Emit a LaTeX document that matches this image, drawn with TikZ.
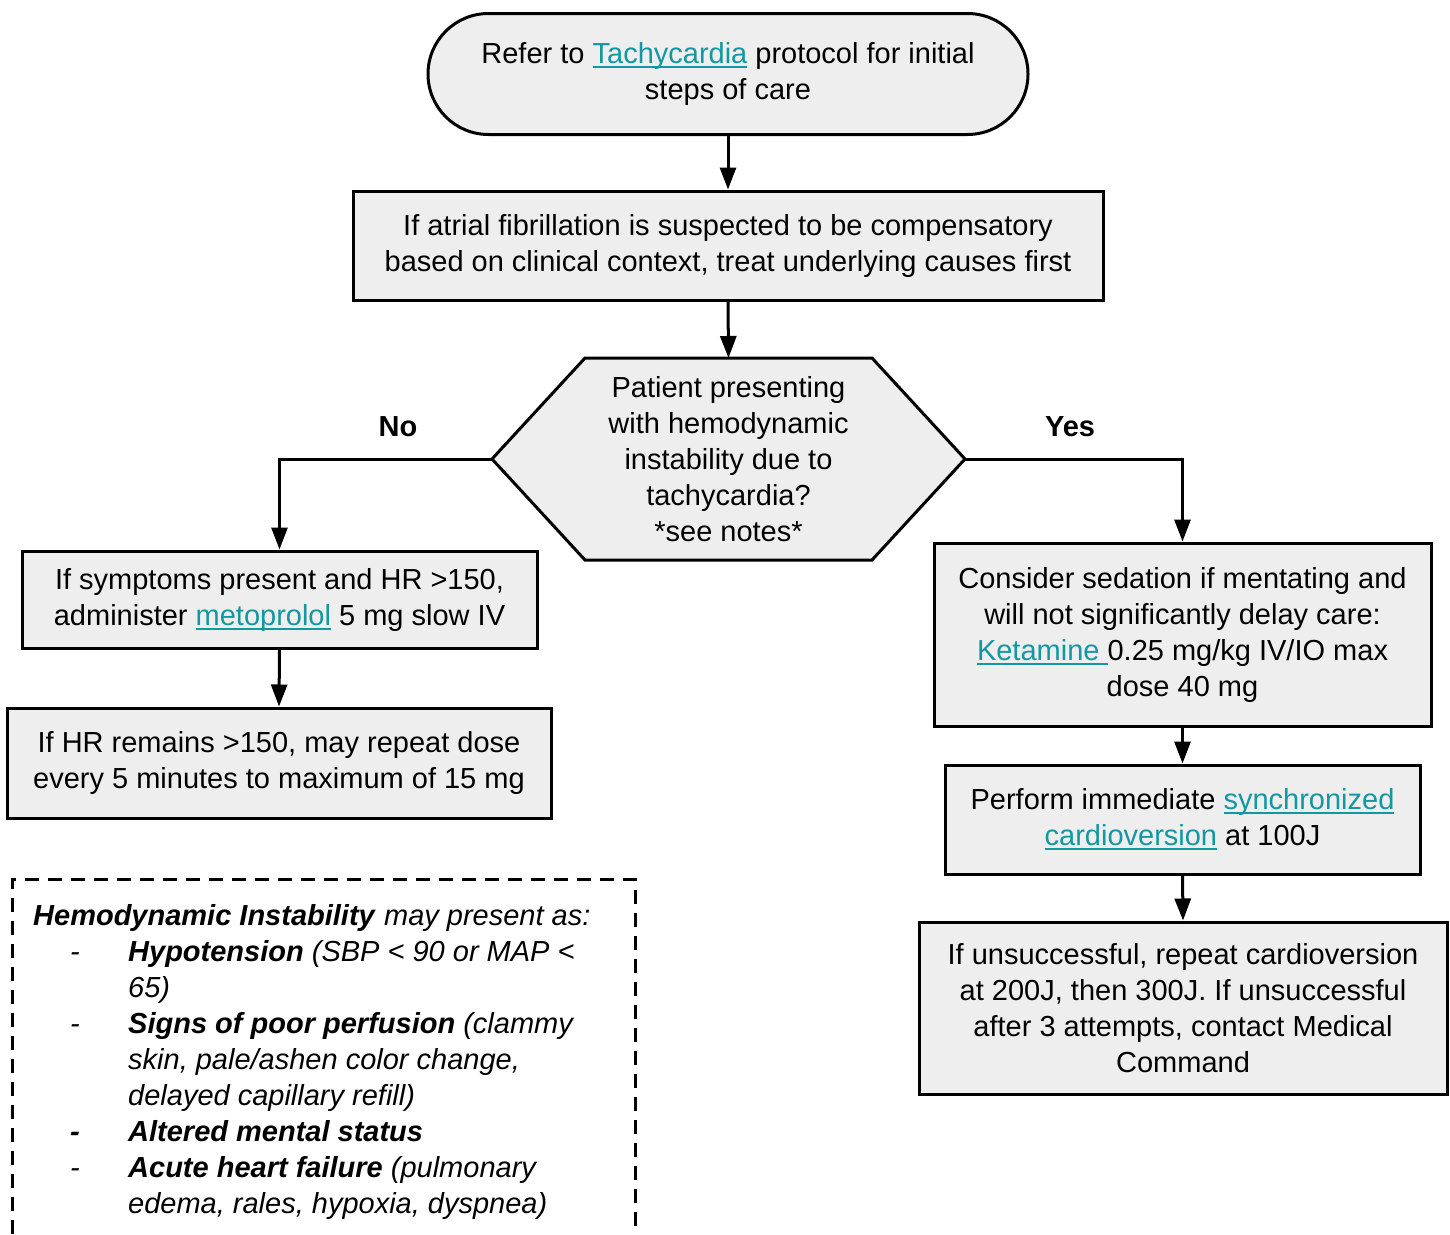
\documentclass[tikz,border=0pt]{standalone}
\usepackage{fontspec}
\setmainfont{Liberation Sans}
\usetikzlibrary{arrows.meta,shapes.misc}
\definecolor{boxfill}{RGB}{238,238,238}
\definecolor{linkc}{RGB}{18,152,162}
% link-style text: teal with a rule just under the baseline
\newcommand{\lnk}[1]{{\color{linkc}\setbox0\hbox{#1}\rlap{\rule[-4.5pt]{\wd0}{1.8pt}}\box0}}
\tikzset{
  every node/.style={font=\fontsize{29}{36}\selectfont},
  stepbox/.style={draw, line width=3pt, fill=boxfill, align=center, inner sep=0pt},
  flow/.style={line width=3pt, -{Triangle[length=22pt,width=16pt]}},
  plainline/.style={line width=3pt},
  notebox/.style={line width=3pt, dash pattern=on 14pt off 9pt},
  notetext/.style={anchor=base west, inner sep=0pt},
}
\begin{document}
\begin{tikzpicture}[x=1pt,y=-1pt]
\useasboundingbox (0,0) rectangle (1450,1234);

% start terminal
\node[stepbox, rounded rectangle, minimum width=600pt, minimum height=121pt] (start) at (728,74)
  {Refer to \lnk{Tachycardia} protocol for initial\\steps of care};

% compensatory AF note
\node[stepbox, minimum width=750pt, minimum height=109pt] (comp) at (728,245.5)
  {If atrial fibrillation is suspected to be compensatory\\based on clinical context, treat underlying causes first};

% decision hexagon
\coordinate (qT) at (728.5,358);
\coordinate (qL) at (492,459);
\coordinate (qR) at (965,459);
\draw[plainline, fill=boxfill, line join=miter] (qL) -- (585,358) -- (872,358) -- (qR) -- (872,560) -- (585,560) -- cycle;
\node[align=center, inner sep=0pt] (q) at (728.5,459)
  {Patient presenting\\with hemodynamic\\instability due to\\tachycardia?\\*see notes*};

% "No" branch
\node[stepbox, minimum width=515pt, minimum height=97pt] (meto) at (279.5,599.5)
  {If symptoms present and HR >150,\\administer \lnk{metoprolol} 5 mg slow IV};
\node[stepbox, minimum width=544pt, minimum height=110pt] (repeat) at (279,763)
  {If HR remains >150, may repeat dose\\every 5 minutes to maximum of 15 mg};

% "Yes" branch
\node[stepbox, minimum width=497pt, minimum height=183pt] (sed) at (1182.5,634.5)
  {Consider sedation if mentating and\\will not significantly delay care:\\\lnk{Ketamine }0.25 mg/kg IV/IO max\\dose 40 mg};
\node[stepbox, minimum width=475pt, minimum height=109pt] (cv) at (1182.5,819.5)
  {Perform immediate \lnk{synchronized}\\\lnk{cardioversion} at 100J};
\node[stepbox, minimum width=528pt, minimum height=172pt] (cv2) at (1183,1008)
  {If unsuccessful, repeat cardioversion\\at 200J, then 300J. If unsuccessful\\after 3 attempts, contact Medical\\Command};

% branch labels
\node[font=\fontsize{29}{36}\selectfont\bfseries] (nolab) at (398,427) {No};
\node[font=\fontsize{29}{36}\selectfont\bfseries] (yeslab) at (1070,427) {Yes};

% connectors
\draw[flow] (start.south) -- (comp.north);
\draw[flow] (comp.south) -- (qT);
\draw[flow] (qL) -| (meto.north);
\draw[flow] (meto.south) -- (repeat.north);
\draw[flow] (qR) -| (sed.north);
\draw[flow] (sed.south) -- (cv.north);
\draw[flow] (cv.south) -- (cv2.north);

% notes panel (open at the bottom)
\coordinate (nbl) at (12,1234);
\coordinate (nbr) at (635,1234);
\draw[notebox] (nbl) -- (12,879) -- (635,879) -- (nbr);

% notes text, one node per printed line
\node[notetext] (n0) at (33,925)
  {\textbf{\textit{Hemodynamic Instability}} \textit{may present as:}};
\node[notetext] (d1) at (70,961) {\textit{-}};
\node[notetext] (t1a) at (128,961)
  {\textbf{\textit{Hypotension}} \textit{(SBP < 90 or MAP <}};
\node[notetext] (t1b) at (128,997) {\textit{65)}};
\node[notetext] (d2) at (70,1033) {\textit{-}};
\node[notetext] (t2a) at (128,1033)
  {\textbf{\textit{Signs of poor perfusion}} \textit{(clammy}};
\node[notetext] (t2b) at (128,1069) {\textit{skin, pale/ashen color change,}};
\node[notetext] (t2c) at (128,1105) {\textit{delayed capillary refill)}};
\node[notetext] (d3) at (70,1141) {\textbf{\textit{-}}};
\node[notetext] (t3) at (128,1141) {\textbf{\textit{Altered mental status}}};
\node[notetext] (d4) at (70,1177) {\textit{-}};
\node[notetext] (t4a) at (128,1177)
  {\textbf{\textit{Acute heart failure}} \textit{(pulmonary}};
\node[notetext] (t4b) at (128,1213) {\textit{edema, rales, hypoxia, dyspnea)}};
\end{tikzpicture}
\end{document}
